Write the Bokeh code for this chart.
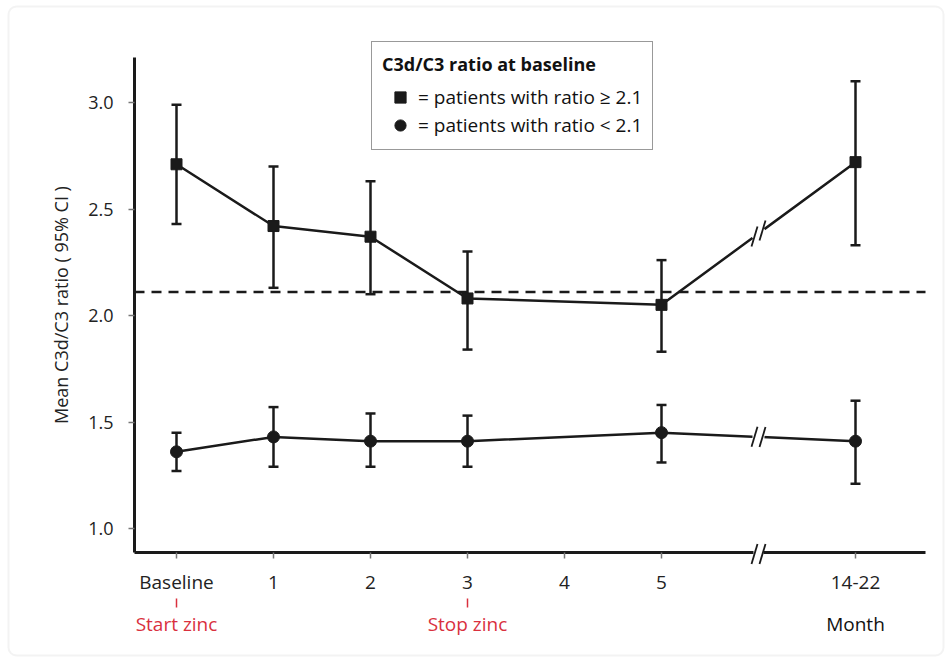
import math
from bokeh.plotting import figure
from bokeh.models import (ColumnDataSource, Whisker, TeeHead, Label, Arrow, BoxAnnotation,
                          FixedTicker, Legend, LegendItem, Range1d)
from bokeh.embed import file_html
from bokeh.resources import INLINE

# ---------------- data ----------------
months = [0, 1, 2, 3, 5, 7]                      # x positions of measurements
tick_positions = [0, 1, 2, 3, 4, 5, 7]
tick_labels = ["Baseline", "1", "2", "3", "4", "5", "14-22"]
y_ticks = [1.0, 1.5, 2.0, 2.5, 3.0]
y_tick_labels = ["1.0", "1.5", "2.0", "2.5", "3.0"]

high_mean = [2.71, 2.42, 2.37, 2.08, 2.05, 2.72]
high_upper = [2.99, 2.70, 2.63, 2.30, 2.26, 3.10]
high_lower = [2.43, 2.13, 2.10, 1.84, 1.83, 2.33]

low_mean = [1.36, 1.43, 1.41, 1.41, 1.45, 1.41]
low_upper = [1.45, 1.57, 1.54, 1.53, 1.58, 1.60]
low_lower = [1.27, 1.29, 1.29, 1.29, 1.31, 1.21]

threshold = 2.11
break_month = 6
event_x = [0, 3]
event_text = ["Start zinc", "Stop zinc"]
unit_x = 7
unit_text = "Month"
y_title = "Mean C3d/C3 ratio ( 95% CI )"

# ---------------- geometry / style ----------------
INK = "#1a1a1a"
RED = "#d9303e"
FONT = "Open Sans"
W, H = 948, 660
PPU_X, PPU_Y = 97.0, 213.0          # pixels per data unit
OX, OY = 176, 528                   # pixel position of (0, 1.0)


def px2x(px):
    return (px - OX) / PPU_X


def py2y(py):
    return 1 + (OY - py) / PPU_Y


px_x, px_y = 1 / PPU_X, 1 / PPU_Y
AX_L, AX_R = px2x(134), px2x(925)   # extent of the x axis
AX_B, AX_T = py2y(552), py2y(57)    # extent of the y axis

p = figure(width=W, height=H, output_backend="svg", toolbar_location=None,
           x_range=Range1d(px2x(0), px2x(W)), y_range=Range1d(py2y(H), py2y(0)),
           min_border_left=0, min_border_right=0, min_border_top=0, min_border_bottom=0)
p.outline_line_color = None
p.grid.visible = False
p.background_fill_color = "white"
p.border_fill_color = "white"

for ax in (p.xaxis[0], p.yaxis[0]):
    ax.axis_line_width = 3
    ax.axis_line_color = INK
    ax.major_tick_in = 0
    ax.major_tick_out = 6
    ax.major_tick_line_color = "#777777"
    ax.major_tick_line_width = 1.5
    ax.minor_tick_line_color = None
    ax.major_label_text_font = FONT
    ax.major_label_text_color = "#222222"

p.xaxis.fixed_location = AX_B
p.xaxis.bounds = (AX_L, AX_R)
p.xaxis.ticker = FixedTicker(ticks=tick_positions)
p.xaxis.major_label_overrides = {t: l for t, l in zip(tick_positions, tick_labels)}
p.xaxis.major_label_text_font_size = "19px"
p.xaxis.major_label_standoff = 10

p.yaxis.fixed_location = AX_L
p.yaxis.bounds = (AX_B, AX_T)
p.yaxis.ticker = FixedTicker(ticks=y_ticks)
p.yaxis.major_label_overrides = {t: l for t, l in zip(y_ticks, y_tick_labels)}
p.yaxis.major_label_text_font_size = "18px"
p.yaxis.major_label_standoff = 15

# outer frame of the figure
p.add_layout(BoxAnnotation(left=px2x(8), right=px2x(943), top=py2y(6), bottom=py2y(655),
                           fill_color=None, line_color="#d6d6d6", line_width=2,
                           border_radius=8, level="underlay"))

# y axis title
p.add_layout(Label(x=px2x(60), y=(AX_B + AX_T) / 2, text=y_title, angle=math.pi / 2,
                   text_align="center", text_baseline="middle", text_font=FONT,
                   text_font_size="18px", text_color="#222222"))

# threshold line (dashed, along the x axis extent)
p.add_layout(Arrow(end=None, x_start=AX_L, y_start=threshold, x_end=AX_R, y_end=threshold,
                   line_color=INK, line_width=2.5, line_dash="10 7", level="underlay"))

# series
src_h = ColumnDataSource(dict(x=months, m=high_mean, up=high_upper, lo=high_lower))
src_l = ColumnDataSource(dict(x=months, m=low_mean, up=low_upper, lo=low_lower))

for src in (src_h, src_l):
    p.add_layout(Whisker(source=src, base="x", upper="up", lower="lo",
                         line_color=INK, line_width=2.5,
                         upper_head=TeeHead(size=10, line_color=INK, line_width=2.5),
                         lower_head=TeeHead(size=10, line_color=INK, line_width=2.5)))
    p.line("x", "m", source=src, line_color=INK, line_width=2.5)

sq = p.scatter("x", "m", source=src_h, marker="square", size=11,
               fill_color=INK, line_color=INK)
ci = p.scatter("x", "m", source=src_l, marker="circle", size=12,
               fill_color=INK, line_color=INK)


def seg(x0, y0, x1, y1, color, width):
    p.add_layout(Arrow(end=None, x_start=x0, y_start=y0, x_end=x1, y_end=y1,
                       line_color=color, line_width=width, level="overlay"))


def add_break(xc, yc, slope_px=0.0, gap_px=6, half_h=10):
    seg(xc - gap_px * px_x, yc - gap_px * slope_px * px_y,
        xc + gap_px * px_x, yc + gap_px * slope_px * px_y, "white", 7)
    for off in (-4, 4):
        cx = xc + off * px_x
        cy = yc + off * slope_px * px_y
        seg(cx - 3 * px_x, cy - half_h * px_y, cx + 3 * px_x, cy + half_h * px_y, INK, 1.8)


# breaks on lines between month 5 and 14-22
for mean in (high_mean, low_mean):
    y5, y7 = mean[4], mean[5]
    ymid = (y5 + y7) / 2
    slope = ((y7 - y5) / px_y) / ((7 - 5) / px_x)
    add_break(break_month, ymid, slope)
# break on the x axis
add_break(break_month, AX_B - 1.5 * px_y, 0.0, 5, 10)

# event labels
lab_y = py2y(623)
for xv, txt in zip(event_x, event_text):
    seg(xv, py2y(598), xv, py2y(607), RED, 1.5)
    p.add_layout(Label(x=xv, y=lab_y, text=txt, text_align="center",
                       text_baseline="middle", text_font=FONT,
                       text_font_size="19px", text_color=RED))
p.add_layout(Label(x=unit_x, y=lab_y, text=unit_text, text_align="center",
                   text_baseline="middle", text_font=FONT,
                   text_font_size="19px", text_color="#111111"))

# legend
legend = Legend(items=[LegendItem(label="= patients with ratio \u2265 2.1", renderers=[sq]),
                       LegendItem(label="= patients with ratio < 2.1", renderers=[ci])],
                title="C3d/C3 ratio at baseline",
                location=(371, H - 150))
legend.title_text_font = FONT
legend.title_text_font_size = "18px"
legend.title_text_font_style = "bold"
legend.title_text_color = "#111111"
legend.title_standoff = 7
legend.label_text_font = FONT
legend.label_text_font_size = "19px"
legend.label_text_color = "#111111"
legend.glyph_width = 36
legend.glyph_height = 28
legend.label_height = 26
legend.spacing = 0
legend.label_standoff = 0
legend.padding = 10
legend.margin = 0
legend.border_line_color = "#333333"
legend.border_line_width = 1.5
legend.background_fill_color = "white"
legend.background_fill_alpha = 1
p.add_layout(legend, "center")

open("out.html", "w").write(file_html(p, INLINE))
